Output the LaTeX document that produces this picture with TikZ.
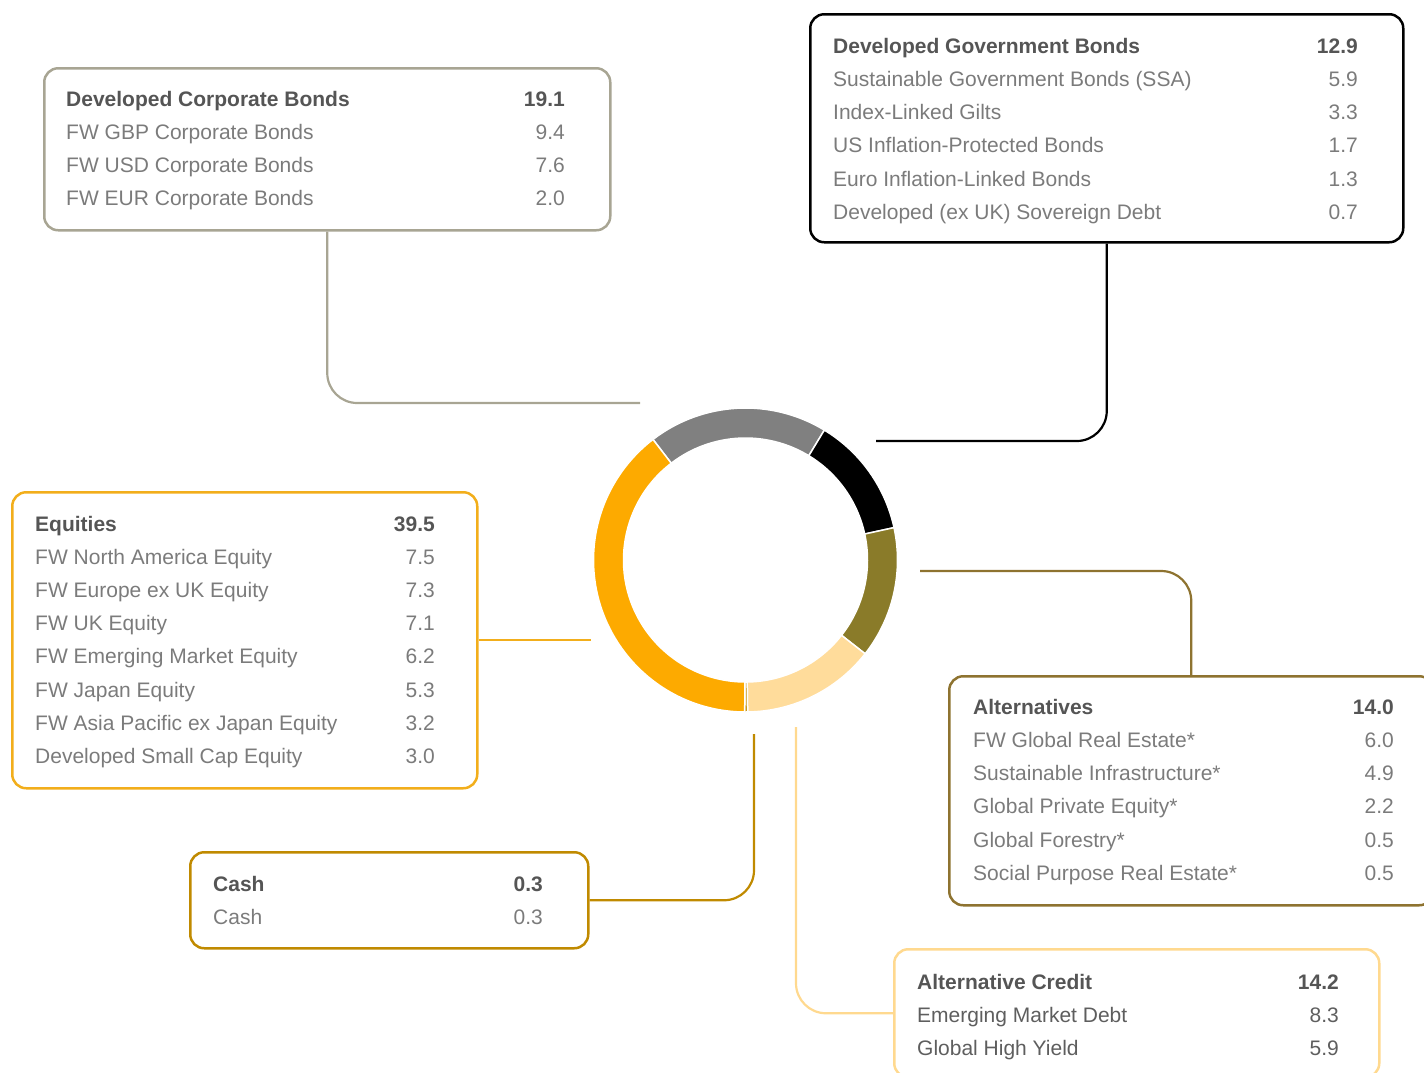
\documentclass[tikz,border=0pt]{standalone}
\usepackage{fontspec}
\setmainfont{Liberation Sans}
\definecolor{corpline}{HTML}{A8A593}
\definecolor{eqline}{HTML}{F2AE1B}
\definecolor{cashline}{HTML}{C08A00}
\definecolor{altline}{HTML}{8E7330}
\definecolor{altcline}{HTML}{FFD98F}
\definecolor{ringgray}{HTML}{808080}
\definecolor{ringolive}{HTML}{8A7B29}
\definecolor{ringlight}{HTML}{FFDC9B}
\definecolor{ringorange}{HTML}{FDAA00}
\definecolor{headgray}{HTML}{555555}
\definecolor{itemgray}{HTML}{7B7B7B}
\definecolor{darkitem}{HTML}{5E5E5E}
\begin{document}
\begin{tikzpicture}[x=1pt, y=-1pt,
  box/.style={draw, rounded corners=14pt, line width=2.5pt, anchor=north west, inner sep=0pt},
  head/.style={font=\fontsize{21}{25}\selectfont\bfseries, text=headgray, inner sep=0pt},
  item/.style={font=\fontsize{21}{25}\selectfont, text=itemgray, inner sep=0pt},
  link/.style={line width=2.2pt, rounded corners=30pt}]
\useasboundingbox (0,0) rectangle (1424,1072);
\clip (0,0) rectangle (1424,1072);

% ring
\begin{scope}[shift={(745.5,560)}, yscale=-1]
\foreach \a/\b/\c in {127.5/58.74/ringgray, 58.74/12.30/black, 12.30/-38.10/ringolive,
    -38.10/-89.22/ringlight, -89.22/-90.30/cashline, -90.30/-232.5/ringorange} {
  \fill[\c, draw=white, line width=1.5pt] (\a:152) arc[start angle=\a, end angle=\b, radius=152]
    -- (\b:122) arc[start angle=\b, end angle=\a, radius=122] -- cycle;
}
\end{scope}

% developed corporate bonds
\node[box, draw=corpline, minimum width=566pt, minimum height=162pt] (dcb) at (43,67) {};
\node[head, anchor=base west] (dcbh) at (66,106) {Developed Corporate Bonds};
\node[head, anchor=base east] (dcbt) at (565,106) {19.1};
\foreach \lbl/\val [count=\i] in {FW GBP Corporate Bonds/9.4, FW USD Corporate Bonds/7.6,
    FW EUR Corporate Bonds/2.0} {
  \node[item, anchor=base west] (dcb\i) at (66,{106+33.3*\i}) {\lbl};
  \node[item, anchor=base east] (dcbv\i) at (565,{106+33.3*\i}) {\val};
}

% developed government bonds
\node[box, draw=black, minimum width=593pt, minimum height=228pt] (dgb) at (809,13) {};
\node[head, anchor=base west] (dgbh) at (833,53) {Developed Government Bonds};
\node[head, anchor=base east] (dgbt) at (1358,53) {12.9};
\foreach \lbl/\val [count=\i] in {Sustainable Government Bonds (SSA)/5.9, Index-Linked Gilts/3.3,
    US Inflation-Protected Bonds/1.7, Euro Inflation-Linked Bonds/1.3,
    Developed (ex UK) Sovereign Debt/0.7} {
  \node[item, anchor=base west] (dgb\i) at (833,{53+33.3*\i}) {\lbl};
  \node[item, anchor=base east] (dgbv\i) at (1358,{53+33.3*\i}) {\val};
}

% equities
\node[box, draw=eqline, minimum width=465pt, minimum height=296pt] (eq) at (11,491) {};
\node[head, anchor=base west] (eqh) at (35,531) {Equities};
\node[head, anchor=base east] (eqt) at (435,531) {39.5};
\foreach \lbl/\val [count=\i] in {FW North America Equity/7.5, FW Europe ex UK Equity/7.3,
    FW UK Equity/7.1, FW Emerging Market Equity/6.2, FW Japan Equity/5.3,
    FW Asia Pacific ex Japan Equity/3.2, Developed Small Cap Equity/3.0} {
  \node[item, anchor=base west] (eq\i) at (35,{531+33.2*\i}) {\lbl};
  \node[item, anchor=base east] (eqv\i) at (435,{531+33.2*\i}) {\val};
}

% cash
\node[box, draw=cashline, minimum width=398pt, minimum height=96pt] (cash) at (189,851) {};
\node[head, anchor=base west] (cashh) at (213,891) {Cash};
\node[head, anchor=base east] (casht) at (543,891) {0.3};
\node[item, anchor=base west] (cash1) at (213,924) {Cash};
\node[item, anchor=base east] (cashv1) at (543,924) {0.3};

% alternatives
\node[box, draw=altline, minimum width=484pt, minimum height=229pt] (alt) at (948,675) {};
\node[head, anchor=base west] (alth) at (973,714) {Alternatives};
\node[head, anchor=base east] (altt) at (1394,714) {14.0};
\foreach \lbl/\val [count=\i] in {FW Global Real Estate*/6.0, Sustainable Infrastructure*/4.9,
    Global Private Equity*/2.2, Global Forestry*/0.5, Social Purpose Real Estate*/0.5} {
  \node[item, anchor=base west] (alt\i) at (973,{714+33.3*\i}) {\lbl};
  \node[item, anchor=base east] (altv\i) at (1394,{714+33.3*\i}) {\val};
}

% alternative credit
\node[box, draw=altcline, minimum width=485pt, minimum height=128pt] (altc) at (893,948) {};
\node[head, anchor=base west] (altch) at (917,989) {Alternative Credit};
\node[head, anchor=base east] (altct) at (1339,989) {14.2};
\foreach \lbl/\val [count=\i] in {Emerging Market Debt/8.3, Global High Yield/5.9} {
  \node[item, text=darkitem, anchor=base west] (altc\i) at (917,{989+33.3*\i}) {\lbl};
  \node[item, text=darkitem, anchor=base east] (altcv\i) at (1339,{989+33.3*\i}) {\val};
}

% connectors
\coordinate (dcbend) at (640,403);
\coordinate (dgbend) at (876,441);
\coordinate (eqend) at (591,639);
\coordinate (altend) at (920,571);
\coordinate (cashend) at (754,734);
\coordinate (altcend) at (796,727);
\draw[link, corpline] (dcb.south) |- (dcbend);
\draw[link, black] (dgb.south) |- (dgbend);
\draw[link, eqline] (eq.east) -- (eq.east -| eqend);
\draw[link, altline] (alt.north) |- (altend);
\draw[link, cashline] (cash.east) -| (cashend);
\draw[link, altcline] (altc.west) -| (altcend);
\end{tikzpicture}
\end{document}
